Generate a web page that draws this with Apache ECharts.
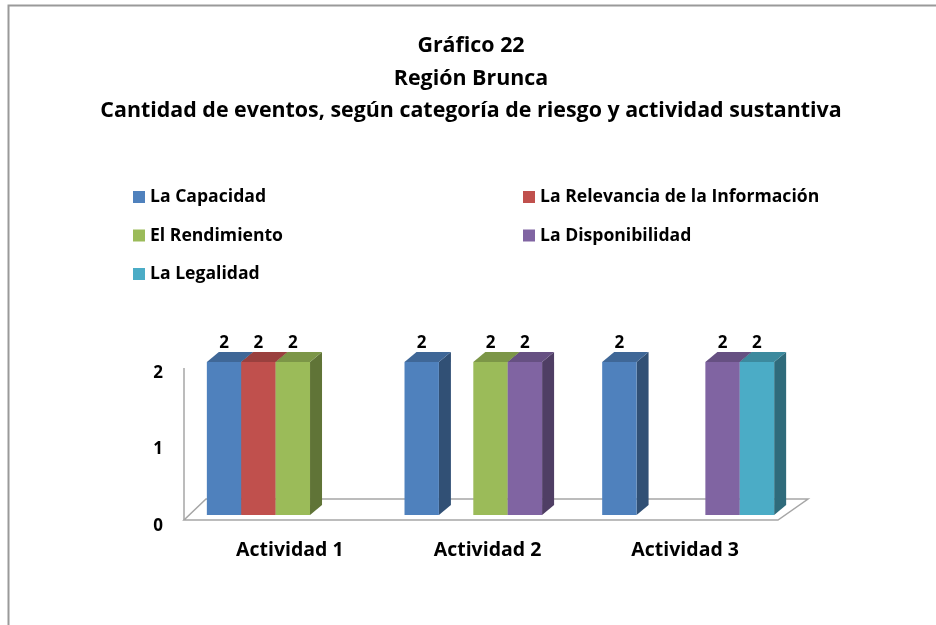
<!DOCTYPE html>
<html>
<head>
<meta charset="utf-8">
<script src="https://cdn.jsdelivr.net/npm/echarts@6/dist/echarts.min.js"></script>
<style>
html,body{margin:0;padding:0;background:#fff;}
#chart{width:936px;height:625px;}
</style>
</head>
<body>
<div id="chart"></div>
<script>
// ---- data ----
const categories = ['Actividad 1', 'Actividad 2', 'Actividad 3'];
const seriesNames = ['La Capacidad', 'La Relevancia de la Información', 'El Rendimiento', 'La Disponibilidad', 'La Legalidad'];
const capacidad = [2, 2, 2];
const relevancia = [2, null, null];
const rendimiento = [2, 2, null];
const disponibilidad = [null, 2, 2];
const legalidad = [null, null, 2];
const yTicks = [0, 1, 2];
const titleLines = ['Gráfico 22', 'Región Brunca', 'Cantidad de eventos, según categoría de riesgo y actividad sustantiva'];

const seriesValues = [capacidad, relevancia, rendimiento, disponibilidad, legalidad];
const colors = ['#4F81BD', '#C0504D', '#9BBB59', '#8064A2', '#4BACC6'];
const FONT = '"Open Sans"';

function shade(hex, f) {
  const n = parseInt(hex.slice(1), 16);
  const r = Math.round(((n >> 16) & 255) * f), g = Math.round(((n >> 8) & 255) * f), b = Math.round((n & 255) * f);
  return 'rgb(' + r + ',' + g + ',' + b + ')';
}

const SLOT = 0.174, DX = 12, DY = -10;

function makeRender(k, color) {
  const side = shade(color, 0.62), topc = shade(color, 0.8);
  return function (params, api) {
    const v = api.value(1);
    if (v == null || isNaN(v)) return null;
    const c = api.value(0);
    const base = api.coord([c, 0]);
    const top = api.coord([c, v]);
    const band = api.size([1, 0])[0];
    const slot = band * SLOT;
    const x0 = base[0] - 2.5 * slot + k * slot;
    const x1 = x0 + slot;
    const yb = base[1], yt = top[1];
    return {
      type: 'group',
      children: [
        { type: 'polygon', shape: { points: [[x1, yt], [x1 + DX, yt + DY], [x1 + DX, yb + DY], [x1, yb]] }, style: { fill: side } },
        { type: 'polygon', shape: { points: [[x0, yt], [x0 + DX, yt + DY], [x1 + DX, yt + DY], [x1, yt]] }, style: { fill: topc } },
        { type: 'rect', shape: { x: x0, y: yt, width: slot, height: yb - yt }, style: { fill: color } },
        { type: 'text', style: { text: String(v), x: (x0 + x1) / 2, y: yt - 19, align: 'center', verticalAlign: 'middle', font: 'bold 17px ' + FONT, fill: '#000' } }
      ]
    };
  };
}

function floorRender(params, api) {
  const cs = params.coordSys;
  const L = cs.x, R = cs.x + cs.width;
  const y0 = api.coord([0, 0])[1];
  const yTop = api.coord([0, yTicks[yTicks.length - 1]])[1];
  return {
    type: 'group',
    children: [
      { type: 'polygon', shape: { points: [[L - 10, y0 + 5], [R - 9, y0 + 5], [R + 21, y0 - 16], [L + 12, y0 - 16]] },
        style: { fill: '#fff', stroke: '#a6a6a6', lineWidth: 1.5 } },
      { type: 'line', shape: { x1: L - 10, y1: yTop + 6, x2: L - 10, y2: y0 + 5 }, style: { stroke: '#a6a6a6', lineWidth: 1.5 } }
    ]
  };
}

const series = [{
  type: 'custom', name: 'floor', renderItem: floorRender, data: [[0, 0]], z: 1, silent: true, clip: false
}];
seriesNames.forEach(function (name, k) {
  series.push({
    type: 'custom', name: name, renderItem: makeRender(k, colors[k]),
    itemStyle: { color: colors[k] },
    encode: { x: 0, y: 1 },
    data: seriesValues[k].map(function (v, i) { return [i, v]; }),
    z: 2 + k, clip: false
  });
});

const legendText = { fontFamily: FONT, fontWeight: 'bold', fontSize: 17.6, color: '#000', lineHeight: 20 };

const chart = echarts.init(document.getElementById('chart'), null, { renderer: 'canvas' });
chart.setOption({
  backgroundColor: '#fff',
  animation: false,
  title: {
    text: titleLines.join('\n'),
    left: 466, top: 25, textAlign: 'center',
    textStyle: { fontFamily: FONT, fontWeight: 'bold', fontSize: 21.4, lineHeight: 32.5, color: '#000' }
  },
  legend: [
    { data: [seriesNames[0], seriesNames[2], seriesNames[4]], orient: 'vertical', left: 128, top: 182,
      icon: 'rect', itemWidth: 12, itemHeight: 12, itemGap: 18.5, textStyle: legendText },
    { data: [seriesNames[1], seriesNames[3]], orient: 'vertical', left: 518, top: 182,
      icon: 'rect', itemWidth: 12, itemHeight: 12, itemGap: 18.5, textStyle: legendText }
  ],
  grid: { left: 194, right: 936 - 787, top: 362, bottom: 625 - 515, containLabel: false },
  xAxis: {
    type: 'category', data: categories,
    axisLine: { show: false }, axisTick: { show: false }, splitLine: { show: false },
    axisLabel: { margin: 25, fontFamily: FONT, fontWeight: 'bold', fontSize: 19.5, color: '#000', padding: [0, 6, 0, 0] }
  },
  yAxis: {
    type: 'value', min: yTicks[0], max: yTicks[yTicks.length - 1], interval: 1,
    axisLine: { show: false }, axisTick: { show: false }, splitLine: { show: false },
    axisLabel: { margin: 31, fontFamily: FONT, fontWeight: 'bold', fontSize: 17, color: '#000', verticalAlign: 'top', lineHeight: 22 }
  },
  graphic: [
    { type: 'polyline', shape: { points: [[8.5, 625], [8.5, 5.5], [936, 5.5]] }, style: { stroke: '#9a9a9a', lineWidth: 2, fill: null }, silent: true }
  ],
  series: series
});
</script>
</body>
</html>
